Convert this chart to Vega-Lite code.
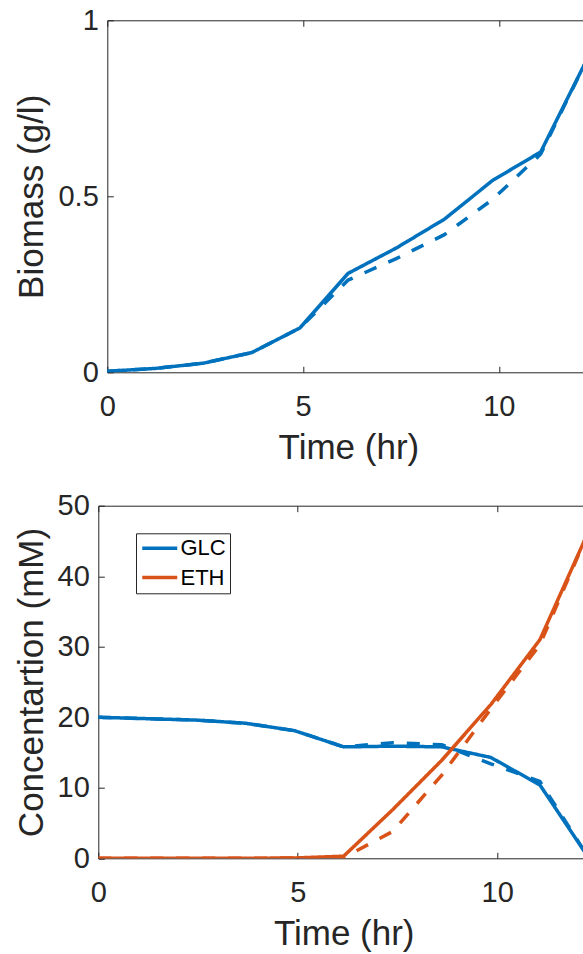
{
  "$schema": "https://vega.github.io/schema/vega-lite/v6.json",
  "autosize": {"type": "none"},
  "padding": {"left": 98.3, "top": 20.3, "right": 0, "bottom": 933.7},
  "background": "white",
  "bounds": "flush",
  "spacing": 133.4,
  "config": {
    "view": {"stroke": null},
    "font": "Liberation Sans",
    "axis": {
      "labelFont": "Liberation Sans",
      "titleFont": "Liberation Sans",
      "labelColor": "#262626",
      "titleColor": "#262626",
      "domainColor": "#262626",
      "tickColor": "#262626",
      "grid": false,
      "labelFontSize": 29,
      "titleFontSize": 35,
      "titleFontWeight": "normal",
      "tickSize": -6,
      "domainWidth": 1,
      "tickWidth": 1,
      "labelFlush": false,
      "labelOverlap": false
    }
  },
  "datasets": {
    "biomass": [
      {"time": 0, "biomass": 0.003, "run": "A"},
      {"time": 1.23, "biomass": 0.011, "run": "A"},
      {"time": 2.46, "biomass": 0.026, "run": "A"},
      {"time": 3.69, "biomass": 0.056, "run": "A"},
      {"time": 4.92, "biomass": 0.126, "run": "A"},
      {"time": 6.15, "biomass": 0.281, "run": "A"},
      {"time": 7.38, "biomass": 0.353, "run": "A"},
      {"time": 8.61, "biomass": 0.435, "run": "A"},
      {"time": 9.84, "biomass": 0.545, "run": "A"},
      {"time": 11.07, "biomass": 0.626, "run": "A"},
      {"time": 12.3, "biomass": 0.9, "run": "A"},
      {"time": 0, "biomass": 0.003, "run": "B"},
      {"time": 1.23, "biomass": 0.011, "run": "B"},
      {"time": 2.46, "biomass": 0.026, "run": "B"},
      {"time": 3.69, "biomass": 0.056, "run": "B"},
      {"time": 4.92, "biomass": 0.126, "run": "B"},
      {"time": 6.15, "biomass": 0.262, "run": "B"},
      {"time": 7.38, "biomass": 0.323, "run": "B"},
      {"time": 8.61, "biomass": 0.391, "run": "B"},
      {"time": 9.84, "biomass": 0.491, "run": "B"},
      {"time": 11.07, "biomass": 0.62, "run": "B"},
      {"time": 12.3, "biomass": 0.9, "run": "B"}
    ],
    "conc": [
      {"time": 0, "conc": 20.0, "species": "GLC", "run": "A"},
      {"time": 1.23, "conc": 19.8, "species": "GLC", "run": "A"},
      {"time": 2.46, "conc": 19.6, "species": "GLC", "run": "A"},
      {"time": 3.69, "conc": 19.15, "species": "GLC", "run": "A"},
      {"time": 4.92, "conc": 18.1, "species": "GLC", "run": "A"},
      {"time": 6.15, "conc": 15.8, "species": "GLC", "run": "A"},
      {"time": 7.38, "conc": 15.9, "species": "GLC", "run": "A"},
      {"time": 8.61, "conc": 15.8, "species": "GLC", "run": "A"},
      {"time": 9.84, "conc": 14.3, "species": "GLC", "run": "A"},
      {"time": 11.07, "conc": 10.4, "species": "GLC", "run": "A"},
      {"time": 12.3, "conc": 0, "species": "GLC", "run": "A"},
      {"time": 0, "conc": 20.0, "species": "GLC", "run": "B"},
      {"time": 1.23, "conc": 19.8, "species": "GLC", "run": "B"},
      {"time": 2.46, "conc": 19.6, "species": "GLC", "run": "B"},
      {"time": 3.69, "conc": 19.15, "species": "GLC", "run": "B"},
      {"time": 4.92, "conc": 18.1, "species": "GLC", "run": "B"},
      {"time": 6.15, "conc": 15.8, "species": "GLC", "run": "B"},
      {"time": 7.38, "conc": 16.4, "species": "GLC", "run": "B"},
      {"time": 8.61, "conc": 16.1, "species": "GLC", "run": "B"},
      {"time": 9.84, "conc": 13.4, "species": "GLC", "run": "B"},
      {"time": 11.07, "conc": 10.9, "species": "GLC", "run": "B"},
      {"time": 12.3, "conc": 0, "species": "GLC", "run": "B"},
      {"time": 0, "conc": 0, "species": "ETH", "run": "A"},
      {"time": 1.23, "conc": 0, "species": "ETH", "run": "A"},
      {"time": 2.46, "conc": 0, "species": "ETH", "run": "A"},
      {"time": 3.69, "conc": 0, "species": "ETH", "run": "A"},
      {"time": 4.92, "conc": 0.05, "species": "ETH", "run": "A"},
      {"time": 6.15, "conc": 0.3, "species": "ETH", "run": "A"},
      {"time": 7.38, "conc": 6.9, "species": "ETH", "run": "A"},
      {"time": 8.61, "conc": 13.9, "species": "ETH", "run": "A"},
      {"time": 9.84, "conc": 21.8, "species": "ETH", "run": "A"},
      {"time": 11.07, "conc": 31.0, "species": "ETH", "run": "A"},
      {"time": 12.3, "conc": 46.5, "species": "ETH", "run": "A"},
      {"time": 0, "conc": 0, "species": "ETH", "run": "B"},
      {"time": 1.23, "conc": 0, "species": "ETH", "run": "B"},
      {"time": 2.46, "conc": 0, "species": "ETH", "run": "B"},
      {"time": 3.69, "conc": 0, "species": "ETH", "run": "B"},
      {"time": 4.92, "conc": 0.05, "species": "ETH", "run": "B"},
      {"time": 6.15, "conc": 0.1, "species": "ETH", "run": "B"},
      {"time": 7.38, "conc": 3.8, "species": "ETH", "run": "B"},
      {"time": 8.61, "conc": 11.8, "species": "ETH", "run": "B"},
      {"time": 9.84, "conc": 21.2, "species": "ETH", "run": "B"},
      {"time": 11.07, "conc": 30.3, "species": "ETH", "run": "B"},
      {"time": 12.3, "conc": 46.5, "species": "ETH", "run": "B"}
    ]
  },
  "vconcat": [
    {
      "width": 484.7,
      "height": 352,
      "data": {"name": "biomass"},
      "layer": [
        {
          "mark": {"type": "line", "clip": true, "strokeWidth": 3.5, "color": "#0072BD"},
          "encoding": {
            "x": {
              "field": "time", "type": "quantitative",
              "scale": {"domain": [0, 12.15], "range": [9, 484.7], "nice": false, "zero": false},
              "axis": {"orient": "bottom", "values": [0, 5, 10], "title": "Time (hr)", "labelPadding": 26,
                       "titleX": 250.1, "titleY": 86, "titleBaseline": "alphabetic", "titleAlign": "center"}
            },
            "y": {
              "field": "biomass", "type": "quantitative",
              "scale": {"domain": [0, 1], "nice": false},
              "axis": {"values": [0, 0.5, 1], "format": "~g", "offset": -9, "title": "Biomass (g/l)",
                       "titleAngle": -90, "titleX": -64.8, "titleY": 176, "titleAlign": "center",
                       "titleBaseline": "alphabetic", "labelPadding": 15}
            },
            "strokeDash": {"field": "run", "type": "nominal",
                           "scale": {"domain": ["A", "B"], "range": [[1, 0], [13, 13]]}, "legend": null}
          }
        },
        {
          "mark": {"type": "line", "opacity": 0},
          "encoding": {
            "x": {"field": "time", "type": "quantitative",
                  "axis": {"orient": "top", "labels": false, "title": null, "values": [0, 5, 10]}},
            "y": {"field": "biomass", "type": "quantitative"},
            "detail": {"field": "run", "type": "nominal"}
          }
        }
      ],
      "resolve": {"axis": {"x": "independent"}}
    },
    {
      "width": 484.7,
      "height": 352.6,
      "data": {"name": "conc"},
      "layer": [
        {
          "mark": {"type": "line", "clip": true, "strokeWidth": 3.5},
          "encoding": {
            "x": {
              "field": "time", "type": "quantitative",
              "scale": {"domain": [0, 12.15], "nice": false, "zero": false},
              "axis": {"orient": "bottom", "values": [0, 5, 10], "title": "Time (hr)", "labelPadding": 26,
                       "titleX": 245.4, "titleY": 86, "titleBaseline": "alphabetic", "titleAlign": "center"}
            },
            "y": {
              "field": "conc", "type": "quantitative",
              "scale": {"domain": [0, 50], "nice": false},
              "axis": {"values": [0, 10, 20, 30, 40, 50], "title": "Concentartion (mM)",
                       "titleAngle": -90, "titleX": -55.8, "titleY": 176.3, "titleAlign": "center",
                       "titleBaseline": "alphabetic", "labelPadding": 15}
            },
            "color": {
              "field": "species", "type": "nominal",
              "scale": {"domain": ["GLC", "ETH"], "range": ["#0072BD", "#D95319"]},
              "legend": {"orient": "none", "legendX": 37.7, "legendY": 513, "title": null,
                         "symbolType": "M-1,0H3", "symbolSize": 306.25, "symbolStrokeWidth": 3.5,
                         "labelFontSize": 22, "labelFont": "Liberation Sans", "labelColor": "#000000",
                         "padding": 4, "rowPadding": 7.3, "labelOffset": 18.5,
                         "strokeColor": "#262626", "fillColor": "white"}
            },
            "strokeDash": {"field": "run", "type": "nominal",
                           "scale": {"domain": ["A", "B"], "range": [[1, 0], [13, 13]]}, "legend": null}
          }
        },
        {
          "mark": {"type": "line", "opacity": 0},
          "encoding": {
            "x": {"field": "time", "type": "quantitative",
                  "axis": {"orient": "top", "labels": false, "title": null, "values": [0, 5, 10]}},
            "y": {"field": "conc", "type": "quantitative"},
            "detail": {"field": "species", "type": "nominal"}
          }
        }
      ],
      "resolve": {"axis": {"x": "independent"}}
    }
  ]
}
